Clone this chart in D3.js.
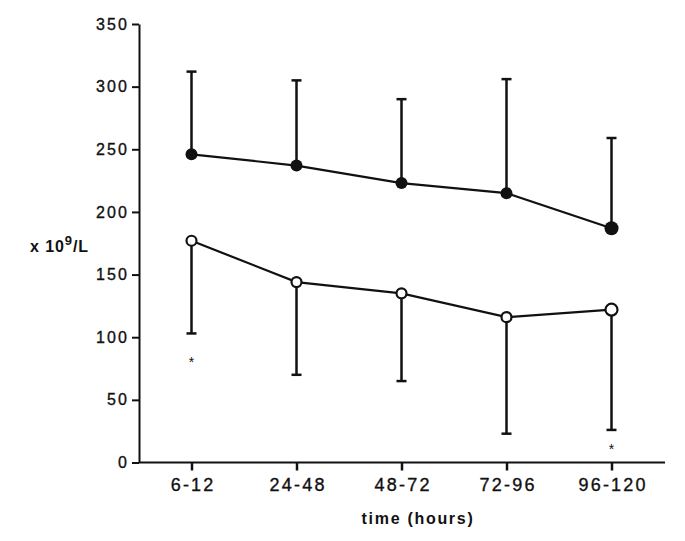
<!DOCTYPE html>
<html>
<head>
<meta charset="utf-8">
<script src="https://cdn.jsdelivr.net/npm/d3@7"></script>
<style>
  html, body { margin: 0; padding: 0; background: #fff; }
  svg { display: block; }
  text { font-family: "Liberation Sans", Arial, sans-serif; fill: #111; }
</style>
</head>
<body>
<svg id="chart" width="685" height="541"></svg>
<script>
// ---- data ----
const categories = ["6-12", "24-48", "48-72", "72-96", "96-120"];
const filledMean  = [246, 237, 223, 215, 187];
const filledUpper = [312, 305, 290, 306, 259];
const openMean    = [177, 144, 135, 116, 122];
const openLower   = [103, 70, 65, 23, 26];
const starCats    = ["6-12", "96-120"];
const starValues  = [82, 12];
const yTicks      = [0, 50, 100, 150, 200, 250, 300, 350];
const yLabel      = "x 10";
const xTitle      = "time (hours)";

// ---- layout ----
const svg = d3.select("#chart");
const x = d3.scalePoint().domain(categories).range([139, 664]).padding(0.5);
const y = d3.scaleLinear().domain([0, 350]).range([462.5, 24]);

// axes
const yAxis = svg.append("g").attr("transform", "translate(139,0)")
  .call(d3.axisLeft(y).tickValues(yTicks).tickSize(7).tickPadding(5).tickSizeOuter(0));
yAxis.select(".domain").attr("stroke", "#111").attr("stroke-width", 2);
yAxis.selectAll(".tick line").attr("stroke", "#111").attr("stroke-width", 2);
yAxis.selectAll(".tick text")
  .style("font-size", "16px").style("letter-spacing", "2.2px")
  .attr("dx", "2.2px")
  .attr("stroke", "#111").attr("stroke-width", 0.35)
  .style("font-family", '"Liberation Sans", Arial, sans-serif').attr("fill", "#111");

const xAxis = svg.append("g").attr("transform", "translate(0,462.5)")
  .call(d3.axisBottom(x).tickSize(8).tickPadding(8).tickSizeOuter(0));
xAxis.select(".domain").attr("stroke", "#111").attr("stroke-width", 2)
  .attr("d", "M139,0H665");
xAxis.selectAll(".tick line").attr("stroke", "#111").attr("stroke-width", 2.5);
xAxis.selectAll(".tick text")
  .style("font-size", "18px").style("letter-spacing", "2.2px")
  .attr("dx", "1.1px").attr("dy", "0.68em")
  .attr("stroke", "#111").attr("stroke-width", 0.35)
  .style("font-family", '"Liberation Sans", Arial, sans-serif').attr("fill", "#111");

// axis titles
const yl = svg.append("text").attr("x", 30).attr("y", 252)
  .style("font-size", "16px").style("font-weight", "bold").style("letter-spacing", "0.9px");
yl.append("tspan").text(yLabel);
yl.append("tspan").attr("dy", -7).style("font-size", "13px").text("9");
yl.append("tspan").attr("dy", 7).text("/L");

svg.append("text").attr("x", 418).attr("y", 524).attr("text-anchor", "middle")
  .style("font-size", "16px").style("font-weight", "bold").style("letter-spacing", "1.7px")
  .text(xTitle);

// error bars
const capW = 5;
const bars = svg.append("g").attr("stroke", "#111").attr("stroke-width", 2.5);
categories.forEach((c, i) => {
  const cx = x(c);
  bars.append("line").attr("x1", cx).attr("x2", cx).attr("y1", y(filledMean[i])).attr("y2", y(filledUpper[i]));
  bars.append("line").attr("x1", cx - capW).attr("x2", cx + capW).attr("y1", y(filledUpper[i])).attr("y2", y(filledUpper[i]));
  bars.append("line").attr("x1", cx).attr("x2", cx).attr("y1", y(openMean[i])).attr("y2", y(openLower[i]));
  bars.append("line").attr("x1", cx - capW).attr("x2", cx + capW).attr("y1", y(openLower[i])).attr("y2", y(openLower[i]));
});

// lines
const line = d3.line().x(d => x(d[0])).y(d => y(d[1]));
svg.append("path").datum(categories.map((c, i) => [c, filledMean[i]]))
  .attr("d", line).attr("fill", "none").attr("stroke", "#111").attr("stroke-width", 2.2);
svg.append("path").datum(categories.map((c, i) => [c, openMean[i]]))
  .attr("d", line).attr("fill", "none").attr("stroke", "#111").attr("stroke-width", 2.2);

// markers
svg.append("g").selectAll("circle").data(categories).join("circle")
  .attr("cx", d => x(d)).attr("cy", (d, i) => y(filledMean[i]))
  .attr("r", (d, i) => i === 4 ? 7 : 6).attr("fill", "#111");
svg.append("g").selectAll("circle").data(categories).join("circle")
  .attr("cx", d => x(d)).attr("cy", (d, i) => y(openMean[i]))
  .attr("r", (d, i) => i === 4 ? 6 : 5).attr("fill", "#fff")
  .attr("stroke", "#111").attr("stroke-width", 2.2);

// significance stars
svg.append("g").selectAll("text").data(starCats).join("text")
  .attr("x", d => x(d)).attr("y", (d, i) => y(starValues[i]) + 7)
  .attr("text-anchor", "middle").style("font-size", "14px").text("*");
</script>
</body>
</html>
